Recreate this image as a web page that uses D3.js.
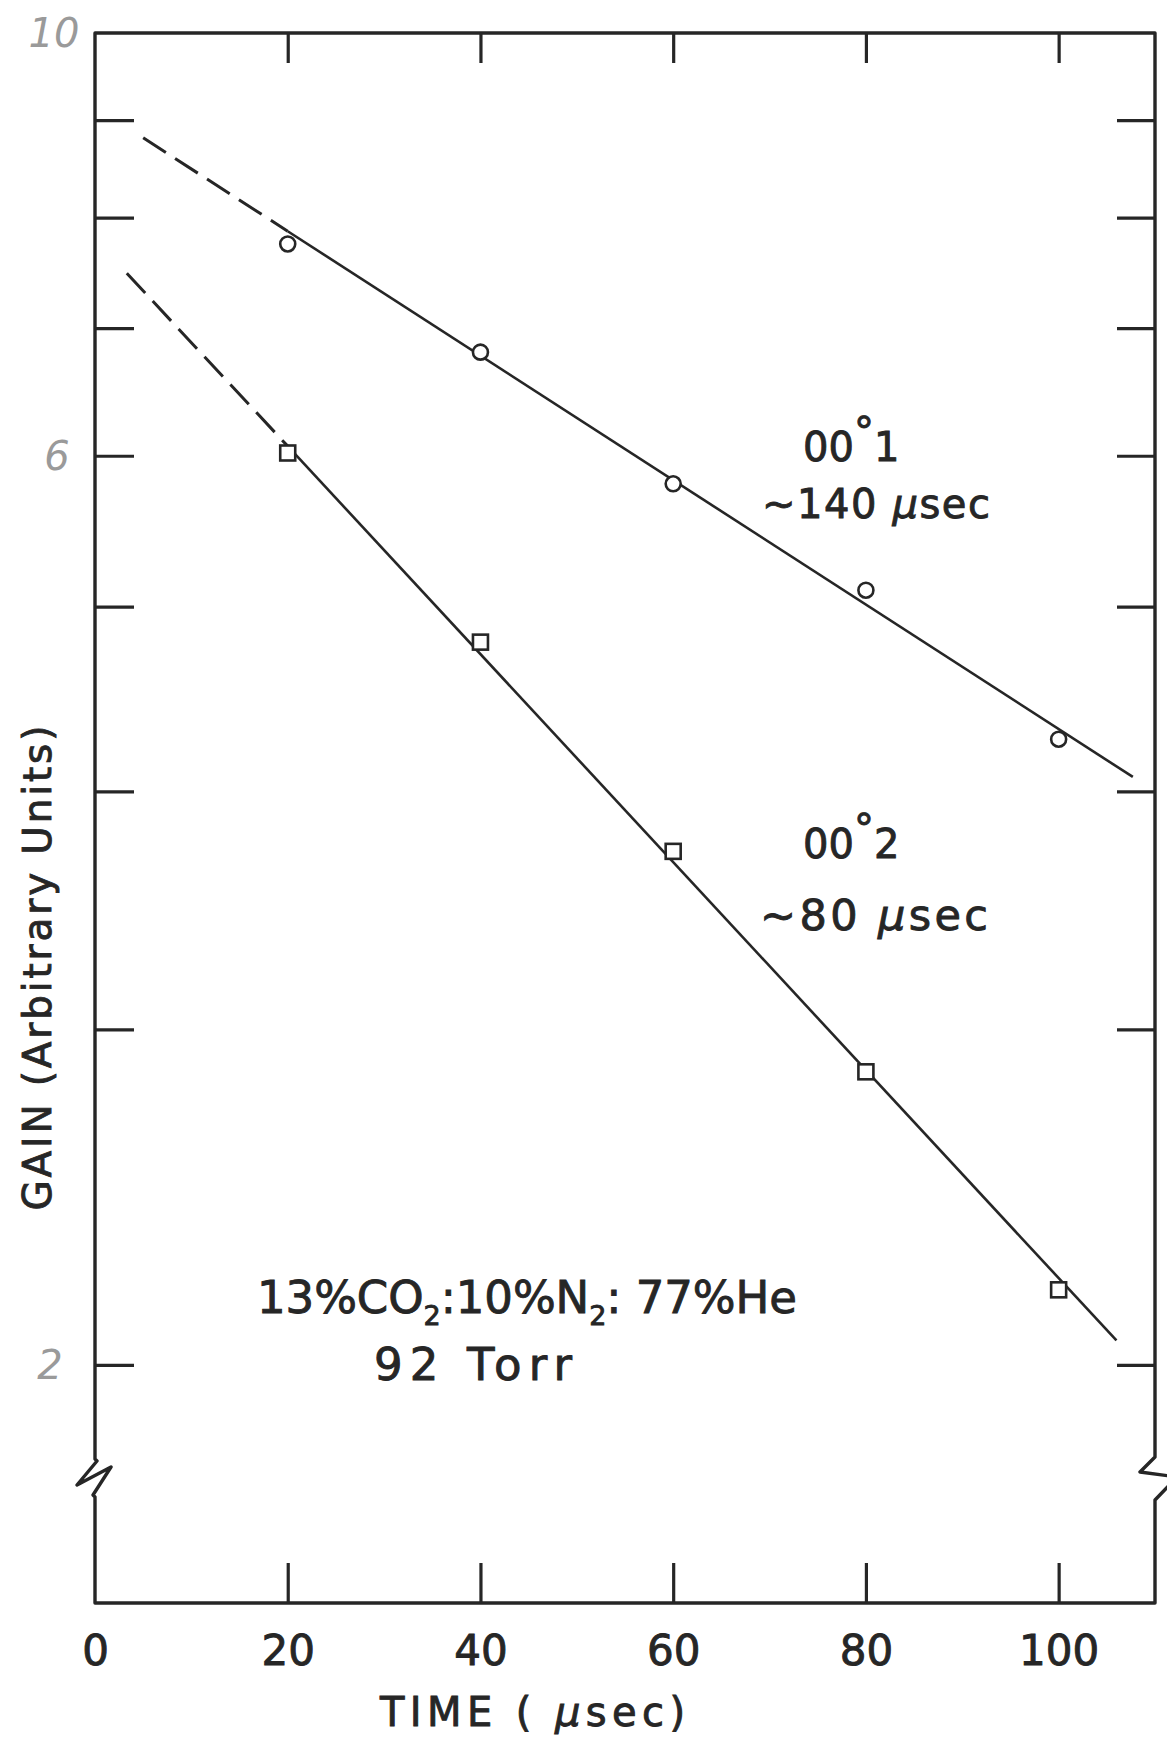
<!DOCTYPE html>
<html>
<head>
<meta charset="utf-8">
<script src="https://cdn.jsdelivr.net/npm/d3@7"></script>
<style>
  html, body { margin: 0; padding: 0; background: #fff; }
  svg { display: block; }
</style>
</head>
<body>
<svg id="chart" width="1167" height="1749"></svg>
<script>
// Sampling times after the discharge pulse (µs)
const times = [20, 40, 60, 80, 100];
// Measured gain on the 00°1 band (open circles)
const gain001 = [7.75, 6.80, 5.80, 5.10, 4.26];
// Measured gain on the 00°2 band (open squares)
const gain002 = [6.02, 4.79, 3.72, 2.85, 2.19];

// Exponential decay fits: [time, gain] end points.
// The part before the first sample is an extrapolation (dashed).
const fit001Extrap = [[5.0, 8.81], [20, 7.87]];
const fit001 = [[20, 7.87], [107.7, 4.07]];
const fit002Extrap = [[3.3, 7.48], [20, 6.07]];
const fit002 = [[20, 6.07], [106.0, 2.06]];

// Axis ticks
const xTicks = [0, 20, 40, 60, 80, 100];
const xFrameTicks = [20, 40, 60, 80, 100];
const yTicks = [2, 3, 4, 5, 6, 7, 8, 9];
const yPencilLabels = ["10", "6", "2"];
const yPencilValues = [10, 6, 2];

// ---- layout ----
const plotLeft = 95, plotRight = 1155, plotTop = 33, plotBottom = 1603;
const ink = "#262626";
const font = "'DejaVu Sans', 'Liberation Sans', sans-serif";
const textStroke = 0.9;

const x = d3.scaleLinear().domain([0, 110]).range([plotLeft, plotRight]);
const y = d3.scaleLog().domain([1.5, 10]).range([plotBottom, plotTop]);

const svg = d3.select("#chart");
svg.append("rect").attr("width", 1167).attr("height", 1749).attr("fill", "#fff");

// ---- frame, with scale breaks on both vertical sides ----
const frame = d3.path();
frame.moveTo(plotLeft, plotTop);
frame.lineTo(plotRight, plotTop);
frame.lineTo(plotRight, 1457);
frame.lineTo(plotRight - 15, 1472);
frame.lineTo(plotRight + 22, 1477);
frame.lineTo(plotRight, 1500);
frame.lineTo(plotRight, plotBottom);
frame.lineTo(plotLeft, plotBottom);
frame.lineTo(plotLeft, 1497);
frame.lineTo(plotLeft - 2, 1495);
frame.lineTo(plotLeft + 16, 1467);
frame.lineTo(plotLeft - 18, 1485);
frame.lineTo(plotLeft + 2, 1461);
frame.lineTo(plotLeft, 1459);
frame.closePath();
svg.append("path")
  .attr("d", frame.toString())
  .attr("fill", "none")
  .attr("stroke", ink)
  .attr("stroke-width", 3.4)
  .attr("stroke-linejoin", "round");

function styleTicks(g, width) {
  g.select(".domain").remove();
  g.selectAll(".tick line").attr("stroke", ink).attr("stroke-width", width);
}

// bottom axis: inward ticks and time labels
const gx = svg.append("g")
  .attr("transform", `translate(0,${plotBottom})`)
  .call(d3.axisBottom(x).tickValues(xTicks).tickSizeInner(-40).tickSizeOuter(0)
    .tickPadding(32).tickFormat(d3.format("d")));
styleTicks(gx, 3.2);
gx.selectAll(".tick line").filter(d => d === 0).remove();
gx.selectAll(".tick text")
  .attr("fill", ink)
  .attr("stroke", ink)
  .attr("stroke-width", textStroke)
  .attr("font-family", font)
  .attr("font-size", 42);

// top axis: short inward ticks only
const gt = svg.append("g")
  .attr("transform", `translate(0,${plotTop})`)
  .call(d3.axisTop(x).tickValues(xFrameTicks).tickSizeInner(-30).tickSizeOuter(0).tickFormat(""));
styleTicks(gt, 3.2);

// left and right axes: log-scale ticks
const gl = svg.append("g")
  .attr("transform", `translate(${plotLeft},0)`)
  .call(d3.axisLeft(y).tickValues(yTicks).tickSizeInner(-39).tickSizeOuter(0).tickFormat(""));
styleTicks(gl, 3.2);
const gr = svg.append("g")
  .attr("transform", `translate(${plotRight},0)`)
  .call(d3.axisRight(y).tickValues(yTicks).tickSizeInner(-38).tickSizeOuter(0).tickFormat(""));
styleTicks(gr, 3.2);

// pencilled decade labels on the gain axis
svg.append("g").selectAll("text")
  .data(yPencilValues)
  .join("text")
  .attr("x", (d, i) => [54, 57, 50][i])
  .attr("y", d => y(d))
  .attr("dy", "0.36em")
  .attr("text-anchor", "middle")
  .attr("font-family", font)
  .attr("font-weight", 200)
  .attr("font-style", "italic")
  .attr("font-size", 40)
  .attr("fill", "#9a9a9a")
  .text((d, i) => yPencilLabels[i]);

// ---- fitted decay lines ----
const line = d3.line().x(d => x(d[0])).y(d => y(d[1]));
const lines = svg.append("g")
  .attr("fill", "none")
  .attr("stroke", ink)
  .attr("stroke-width", 2.6);
[fit001, fit002].forEach(seg => lines.append("path").attr("d", line(seg)));
[fit001Extrap, fit002Extrap].forEach(seg =>
  lines.append("path").attr("d", line(seg))
    .attr("stroke-width", 3)
    .attr("stroke-dasharray", "27 11"));

// ---- measured points ----
svg.append("g").selectAll("circle")
  .data(times)
  .join("circle")
  .attr("cx", d => x(d))
  .attr("cy", (d, i) => y(gain001[i]))
  .attr("r", 7.5)
  .attr("fill", "#fff")
  .attr("stroke", ink)
  .attr("stroke-width", 2.6);

const sq = 15;
svg.append("g").selectAll("rect")
  .data(times)
  .join("rect")
  .attr("x", d => x(d) - sq / 2)
  .attr("y", (d, i) => y(gain002[i]) - sq / 2)
  .attr("width", sq)
  .attr("height", sq)
  .attr("fill", "#fff")
  .attr("stroke", ink)
  .attr("stroke-width", 2.6);

// ---- annotations ----
function styledText(sel, size) {
  return sel.attr("font-family", font).attr("font-size", size)
    .attr("fill", ink).attr("stroke", ink).attr("stroke-width", textStroke);
}
function bandLabel(xPos, yPos, last) {
  const t = styledText(svg.append("text").attr("x", xPos).attr("y", yPos), 40);
  t.append("tspan").text("00");
  t.append("tspan").attr("dy", -15).text("°");
  t.append("tspan").attr("dy", 15).text(last);
}
function lifetimeLabel(xPos, yPos, value, size, width) {
  const t = styledText(svg.append("text").attr("x", xPos).attr("y", yPos), size)
    .attr("textLength", width).attr("lengthAdjust", "spacing");
  t.append("tspan").text("~" + value + " ");
  t.append("tspan").attr("font-style", "italic").text("µ");
  t.append("tspan").text("sec");
}
bandLabel(803, 461, "1");
lifetimeLabel(762, 518, "140", 40, 228);
bandLabel(803, 858, "2");
lifetimeLabel(760, 930, "80", 43, 228);

// gas mixture and pressure
const mix = styledText(svg.append("text").attr("x", 257).attr("y", 1313), 45)
  .attr("textLength", 540).attr("lengthAdjust", "spacing");
mix.append("tspan").text("13%CO");
mix.append("tspan").attr("dy", 12).attr("font-size", 27).text("2");
mix.append("tspan").attr("dy", -12).text(":10%N");
mix.append("tspan").attr("dy", 12).attr("font-size", 27).text("2");
mix.append("tspan").attr("dy", -12).text(": 77%He");

styledText(svg.append("text").attr("x", 374).attr("y", 1380), 45)
  .attr("textLength", 198).attr("lengthAdjust", "spacing")
  .text("92 Torr");

// axis titles
const xt = styledText(svg.append("text").attr("x", 380).attr("y", 1726), 40)
  .attr("textLength", 305).attr("lengthAdjust", "spacing");
xt.append("tspan").text("TIME ( ");
xt.append("tspan").attr("font-style", "italic").text("µ");
xt.append("tspan").text("sec)");

styledText(svg.append("text")
  .attr("transform", "translate(37,968) rotate(-90)")
  .attr("text-anchor", "middle")
  .attr("dy", "0.36em"), 39)
  .attr("textLength", 485).attr("lengthAdjust", "spacing")
  .text("GAIN (Arbitrary Units)");
</script>
</body>
</html>
